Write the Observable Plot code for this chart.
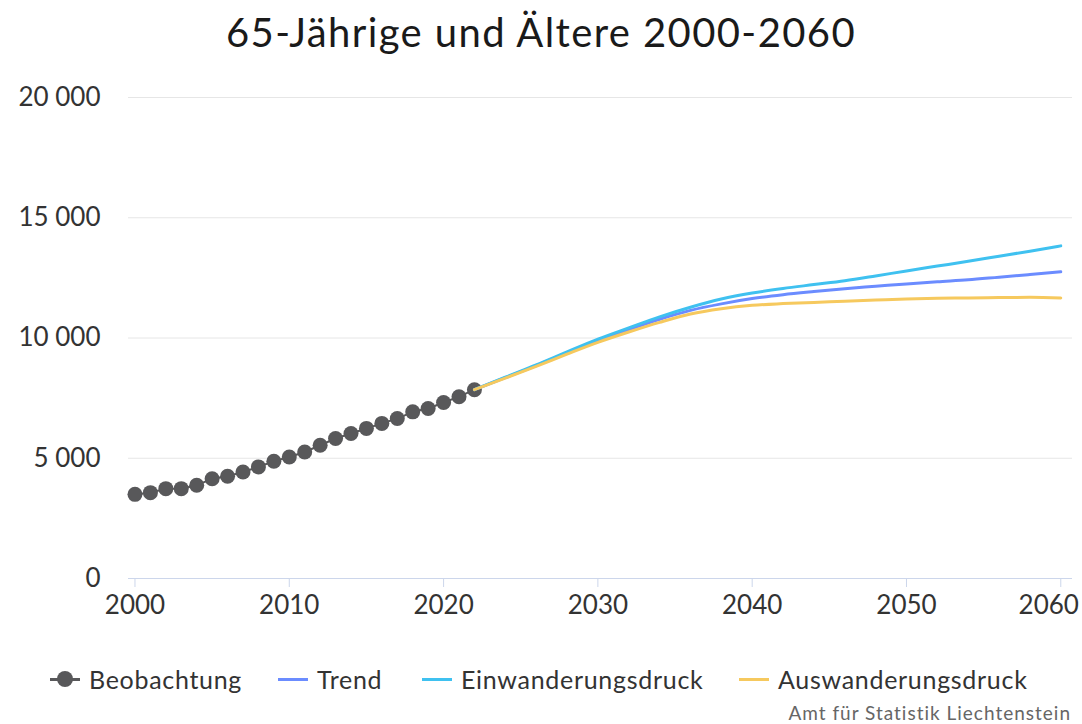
<!DOCTYPE html>
<html><head><meta charset="utf-8">
<script src="https://cdn.jsdelivr.net/npm/d3@7"></script>
<script src="https://cdn.jsdelivr.net/npm/@observablehq/plot@0.6"></script>
<style>
body{margin:0;background:#fff;font-family:Lato,sans-serif;}
#wrap{position:relative;width:1082px;height:724px;overflow:hidden;}
#title{position:absolute;top:0;left:0;width:1082px;text-align:center;font-size:40px;letter-spacing:1.4px;line-height:64px;color:#1a1a1a;}
#chart{position:absolute;top:70px;left:0;}
#chart svg{overflow:visible;}
.leg{position:absolute;top:664px;height:30px;font-size:25px;letter-spacing:0.7px;color:#333;line-height:30px;white-space:nowrap;}
.sw{position:absolute;top:13.5px;height:3px;width:30px;}
#credit{position:absolute;right:11px;top:701px;font-size:19px;letter-spacing:1px;color:#666;line-height:24px;}
</style></head>
<body>
<div id="wrap">
<div id="title">65-Jährige und Ältere 2000-2060</div>
<div id="chart"></div>
<div id="legend"></div>
<div id="credit">Amt für Statistik Liechtenstein</div>
</div>
<script>
const obsYears = [2000,2001,2002,2003,2004,2005,2006,2007,2008,2009,2010,2011,2012,2013,2014,2015,2016,2017,2018,2019,2020,2021,2022];
const obsValues = [3500,3570,3735,3735,3875,4150,4250,4430,4640,4875,5050,5260,5540,5820,6030,6240,6450,6650,6930,7070,7320,7560,7850];

const projYears = [2022,2024,2026,2028,2030,2032,2034,2036,2038,2040,2042,2044,2046,2048,2050,2052,2054,2056,2058,2060];
const trend = [7850,8350,8850,9380,9900,10350,10780,11150,11420,11640,11800,11930,12050,12150,12250,12340,12420,12530,12640,12750];
const einwanderung = [7850,8370,8880,9420,9950,10420,10880,11280,11620,11870,12060,12220,12380,12580,12790,12990,13190,13400,13610,13830];
const auswanderung = [7850,8330,8820,9330,9820,10250,10650,11000,11220,11360,11430,11480,11530,11580,11625,11650,11665,11680,11690,11665];

const seriesNames = ["Beobachtung","Trend","Einwanderungsdruck","Auswanderungsdruck"];
const seriesColors = ["#58585a","#6b8cff","#3fc1f0","#f6c95e"];
const xTicks = [2000,2010,2020,2030,2040,2050];
const xTickLast = [2060];
const yTicks = [0,5000,10000,15000,20000];

const obs = obsYears.map((x,i)=>({x, y: obsValues[i]}));
const proj = [];
[trend, einwanderung, auswanderung].forEach((arr, k) => {
  projYears.forEach((x,i)=>proj.push({x, y: arr[i], s: seriesNames[k+1]}));
});

const fmt = d => d3.format(",")(d).replace(/,/g, " ");
const axisStyle = {fontSize: 26, fill: "#333", letterSpacing: "1.2px"};

const chart = Plot.plot({
  width: 1082,
  height: 555,
  marginTop: 27,
  marginBottom: 47,
  marginLeft: 128,
  marginRight: 10,
  style: {fontFamily: "Lato, sans-serif", fontSize: "26px", color: "#333", background: "#fff", overflow: "visible"},
  x: {domain: [1999.58, 2060.76], label: null},
  y: {domain: [0, 20000], label: null},
  color: {domain: seriesNames, range: seriesColors},
  marks: [
    Plot.gridY(yTicks.filter(d=>d>0), {stroke: "#e6e6e6", strokeOpacity: 1, strokeWidth: 1}),
    Plot.ruleY([0], {stroke: "#ccd6eb", strokeWidth: 1}),
    Plot.axisY(yTicks, {tickSize: 0, tickPadding: 28, tickFormat: fmt, label: null, ...axisStyle}),
    Plot.axisX(xTicks, {tickSize: 9, stroke: "#ccd6eb", tickPadding: 8, tickFormat: d => String(d), label: null, ...axisStyle}),
    Plot.axisX(xTickLast, {tickSize: 9, stroke: "#ccd6eb", tickFormat: () => "", label: null}),
    Plot.axisX(xTickLast, {tickSize: 0, tickPadding: 17, tickFormat: d => String(d), label: null, dx: -12, ...axisStyle}),
    Plot.line(obs, {x: "x", y: "y", stroke: seriesColors[0], strokeWidth: 2}),
    Plot.dot(obs, {x: "x", y: "y", r: 7.5, fill: seriesColors[0], stroke: "none"}),
    Plot.line(proj, {x: "x", y: "y", z: "s", stroke: "s", strokeWidth: 3, curve: "monotone-x"})
  ]
});
document.getElementById("chart").appendChild(chart);

// legend
const legLefts = [50, 278, 422, 739];
const leg = document.getElementById("legend");
seriesNames.forEach((name, i) => {
  const d = document.createElement("div");
  d.className = "leg";
  d.style.left = legLefts[i] + "px";
  d.style.paddingLeft = "39px";
  const sw = document.createElement("div");
  sw.className = "sw";
  sw.style.left = "0px";
  sw.style.background = seriesColors[i];
  d.appendChild(sw);
  if (i === 0) {
    const dot = document.createElement("div");
    dot.style.cssText = `position:absolute;left:7px;top:7px;width:16px;height:16px;border-radius:8px;background:${seriesColors[0]}`;
    d.appendChild(dot);
  }
  d.appendChild(document.createTextNode(name));
  leg.appendChild(d);
});
</script>
</body></html>
